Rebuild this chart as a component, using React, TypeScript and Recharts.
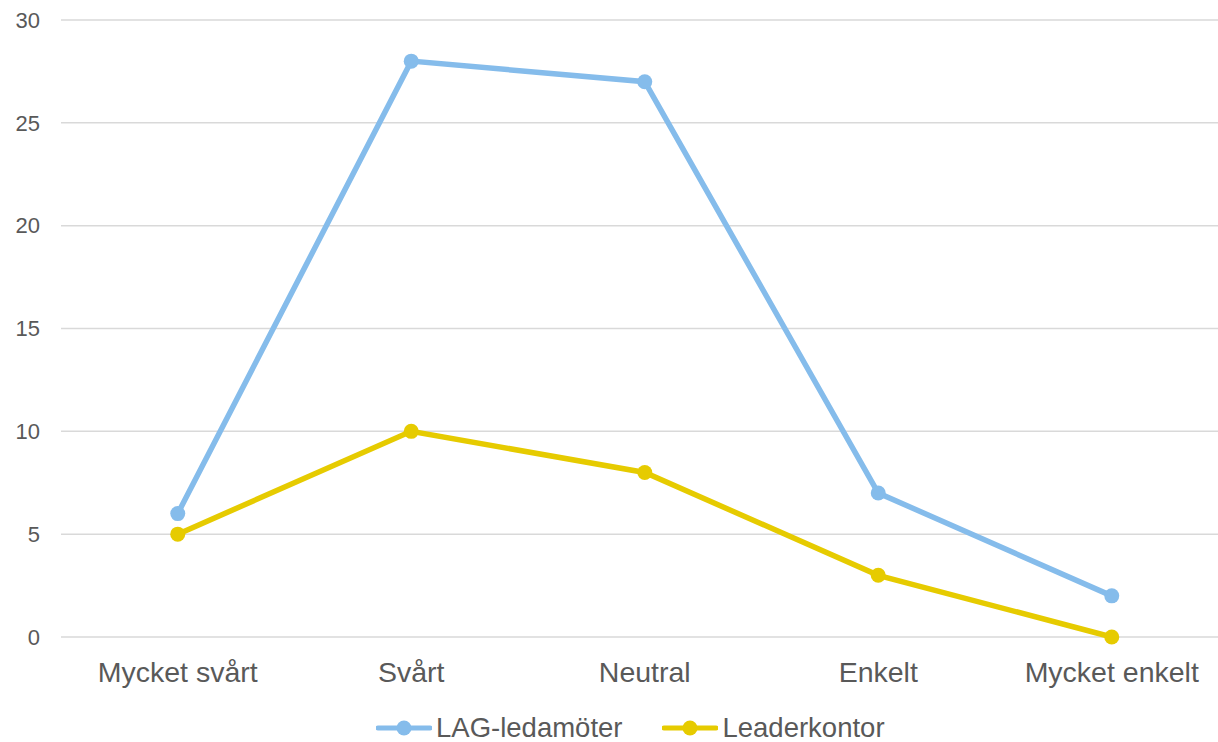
import { LineChart, Line, XAxis, YAxis, CartesianGrid, Legend } from 'recharts'

const categories = ['Mycket svårt', 'Svårt', 'Neutral', 'Enkelt', 'Mycket enkelt']
const lagValues = [6, 28, 27, 7, 2]
const leaderValues = [5, 10, 8, 3, 0]
const yTicks = [0, 5, 10, 15, 20, 25, 30]

const SERIES = [
  { key: 'lag', name: 'LAG-ledamöter', color: '#85bceb' },
  { key: 'leader', name: 'Leaderkontor', color: '#e6cb00' },
]

const data = categories.map((c, i) => ({ cat: c, lag: lagValues[i], leader: leaderValues[i] }))

const FONT = '"Liberation Sans", Arial, sans-serif'
const TEXT = '#595959'

function LegendItems() {
  return (
    <div style={{ display: 'flex', alignItems: 'center', height: 40, paddingTop: 12, paddingLeft: 376, boxSizing: 'border-box', fontFamily: FONT, fontSize: 27.5, color: TEXT }}>
      {SERIES.map((s, i) => (
        <div key={s.key} style={{ display: 'flex', alignItems: 'center', marginRight: i === 0 ? 40 : 0 }}>
          <svg width={56} height={20}>
            <line x1={2} y1={10} x2={54} y2={10} stroke={s.color} strokeWidth={5} strokeLinecap="round" />
            <circle cx={28} cy={10} r={7.5} fill={s.color} />
          </svg>
          <span style={{ marginLeft: 4, lineHeight: 1 }}>{s.name}</span>
        </div>
      ))}
    </div>
  )
}

export default function App() {
  return (
    <div style={{ position: 'absolute', left: 0, top: 0, width: 1218, height: 742, overflow: 'hidden', background: '#fff' }}>
      <LineChart width={1240} height={742} data={data} margin={{ top: 20, right: 11.5, left: 0, bottom: 0 }}>
        <CartesianGrid vertical={false} stroke="#d9d9d9" strokeWidth={1.5} />
        <XAxis dataKey="cat" axisLine={false} tickLine={false} tickSize={0} tickMargin={25} height={65}
          padding={{ left: 116.75, right: 116.75 }}
          interval={0} tick={{ fontSize: 28.5, fill: TEXT, fontFamily: FONT }} />
        <YAxis domain={[0, 30]} ticks={yTicks} axisLine={false} tickLine={false} tickSize={0} tickMargin={21}
          width={61} tick={{ fontSize: 22, fill: TEXT, fontFamily: FONT }} />
        <Legend verticalAlign="bottom" height={40} content={() => <LegendItems />} />
        {SERIES.map(s => (
          <Line key={s.key} dataKey={s.key} name={s.name} stroke={s.color} strokeWidth={5.5}
            dot={{ r: 7.5, fill: s.color, stroke: 'none' }} activeDot={false} isAnimationActive={false} />
        ))}
      </LineChart>
    </div>
  )
}
